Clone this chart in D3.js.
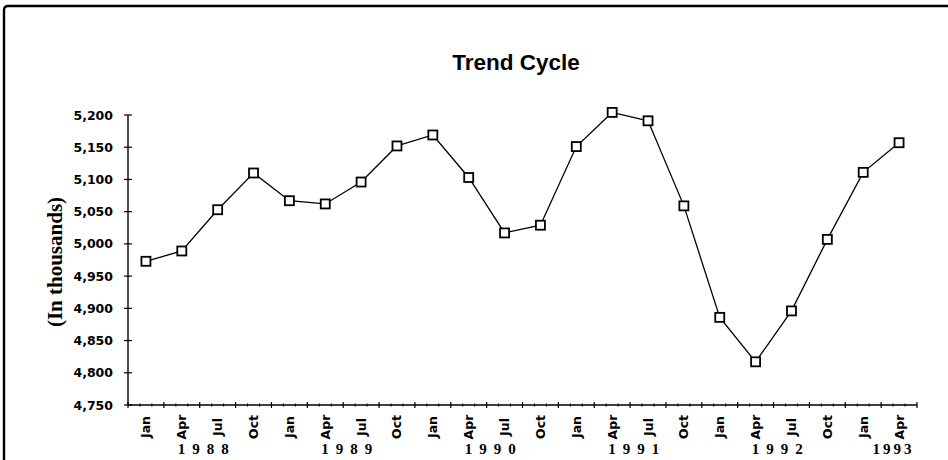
<!DOCTYPE html>
<html>
<head>
<meta charset="utf-8">
<script src="https://cdn.jsdelivr.net/npm/d3@7"></script>
<style>
  html, body { margin: 0; padding: 0; background: #fff; }
  svg { display: block; }
</style>
</head>
<body>
<svg id="chart" width="948" height="460"></svg>
<script>
const title = "Trend Cycle";
const yAxisTitle = "(In thousands)";
const months = ["Jan","Apr","Jul","Oct","Jan","Apr","Jul","Oct","Jan","Apr","Jul","Oct",
                "Jan","Apr","Jul","Oct","Jan","Apr","Jul","Oct","Jan","Apr"];
const yearsOf = [1988,1988,1988,1988,1989,1989,1989,1989,1990,1990,1990,1990,
                 1991,1991,1991,1991,1992,1992,1992,1992,1993,1993];
const values = [4973, 4989, 5053, 5110, 5067, 5062, 5096, 5152, 5169, 5103, 5017, 5029,
                5151, 5204, 5191, 5059, 4886, 4817, 4896, 5007, 5111, 5157];
const yTicks = [4750, 4800, 4850, 4900, 4950, 5000, 5050, 5100, 5150, 5200];
const yearLabels = ["1988", "1989", "1990", "1991", "1992", "1993"];
const yearNums = [1988, 1989, 1990, 1991, 1992, 1993];

const svg = d3.select("#chart");
const W = 948, H = 460;
const plot = { left: 128, right: 917, top: 115, bottom: 405 };

// frame (top and left edges visible)
svg.append("path")
  .attr("d", `M4,${H} L4,10 Q4,6 8,6 L${W},6`)
  .attr("fill", "none").attr("stroke", "#000").attr("stroke-width", 2.4);

const keys = months.map((m, i) => i);
const x = d3.scaleBand().domain(keys).range([plot.left, plot.right]).paddingInner(0).paddingOuter(0);
const y = d3.scaleLinear().domain([4750, 5200]).range([plot.bottom, plot.top]);
const cx = i => x(i) + x.bandwidth() / 2;

// title
svg.append("text")
  .attr("x", 516).attr("y", 70)
  .attr("text-anchor", "middle")
  .attr("font-family", "Liberation Sans, Arial, sans-serif")
  .attr("font-weight", "bold").attr("font-size", 22.5)
  .text(title);

// y axis
const yAxis = d3.axisLeft(y).tickValues(yTicks).tickSize(0).tickFormat(d3.format(","));
const gy = svg.append("g").attr("transform", `translate(${plot.left},0)`).call(yAxis);
gy.select(".domain").remove();
gy.selectAll("text")
  .attr("x", -15)
  .attr("font-family", "DejaVu Sans, sans-serif")
  .attr("font-weight", "bold").attr("font-size", 12.5).attr("fill", "#000");
svg.append("line")
  .attr("x1", plot.left).attr("x2", plot.left)
  .attr("y1", plot.top).attr("y2", plot.bottom)
  .attr("stroke", "#000").attr("stroke-width", 1.4);
svg.append("g").selectAll("line").data(yTicks).join("line")
  .attr("x1", plot.left - 4).attr("x2", plot.left + 4)
  .attr("y1", d => y(d)).attr("y2", d => y(d))
  .attr("stroke", "#000").attr("stroke-width", 1.2);

// y axis title
svg.append("text")
  .attr("transform", `translate(62,${(plot.top + plot.bottom) / 2 + 2}) rotate(-90)`)
  .attr("text-anchor", "middle")
  .attr("font-family", "Liberation Serif, Times New Roman, serif")
  .attr("font-weight", "bold").attr("font-size", 21)
  .text(yAxisTitle);

// x axis line
svg.append("line")
  .attr("x1", plot.left).attr("x2", plot.right)
  .attr("y1", plot.bottom).attr("y2", plot.bottom)
  .attr("stroke", "#000").attr("stroke-width", 1.4);
// major ticks at band boundaries
const bounds = keys.map(i => x(i)).concat([plot.right]);
svg.append("g").selectAll("line").data(bounds).join("line")
  .attr("x1", d => d).attr("x2", d => d)
  .attr("y1", plot.bottom - 3).attr("y2", plot.bottom + 3)
  .attr("stroke", "#000").attr("stroke-width", 1.2);
// minor ticks (monthly)
const minor = [];
keys.forEach(i => { minor.push(x(i) + x.bandwidth() / 3, x(i) + 2 * x.bandwidth() / 3); });
svg.append("g").selectAll("line").data(minor).join("line")
  .attr("x1", d => d).attr("x2", d => d)
  .attr("y1", plot.bottom - 1.5).attr("y2", plot.bottom + 1.5)
  .attr("stroke", "#000").attr("stroke-width", 1);

// month labels
svg.append("g").selectAll("text").data(keys).join("text")
  .attr("transform", i => `translate(${cx(i) + 4.5},427) rotate(-90)`)
  .attr("text-anchor", "middle")
  .attr("font-family", "DejaVu Sans, sans-serif")
  .attr("font-weight", "bold").attr("font-size", 12.5)
  .text(i => months[i]);

// year labels
const yl = svg.append("g").selectAll("text").data(yearNums).join("text")
  .attr("y", 454)
  .attr("text-anchor", "middle")
  .attr("font-family", "Liberation Serif, Times New Roman, serif")
  .attr("font-weight", "bold").attr("font-size", 15)
  .attr("letter-spacing", 7)
  .text((d, i) => yearLabels[i]);
yl.each(function (yr) {
  const ap = keys.find(i => yearsOf[i] === yr && months[i] === "Apr");
  let c = cx(ap) + x.bandwidth() * 0.6;
  const node = d3.select(this);
  const w = this.getComputedTextLength();
  if (c + w / 2 > plot.right - 6) {
    node.attr("letter-spacing", 3);
    const w2 = this.getComputedTextLength();
    c = plot.right - 6 - w2 / 2;
  }
  node.attr("x", c + 3.5);
});

// line
const line = d3.line().x((d, i) => cx(i)).y(d => y(d));
svg.append("path").datum(values)
  .attr("d", line)
  .attr("fill", "none").attr("stroke", "#000").attr("stroke-width", 1.3);

// markers
const ms = 9;
svg.append("g").selectAll("rect").data(values).join("rect")
  .attr("x", (d, i) => cx(i) - ms / 2).attr("y", d => y(d) - ms / 2)
  .attr("width", ms).attr("height", ms)
  .attr("fill", "#fff").attr("stroke", "#000").attr("stroke-width", 1.8);
</script>
</body>
</html>
